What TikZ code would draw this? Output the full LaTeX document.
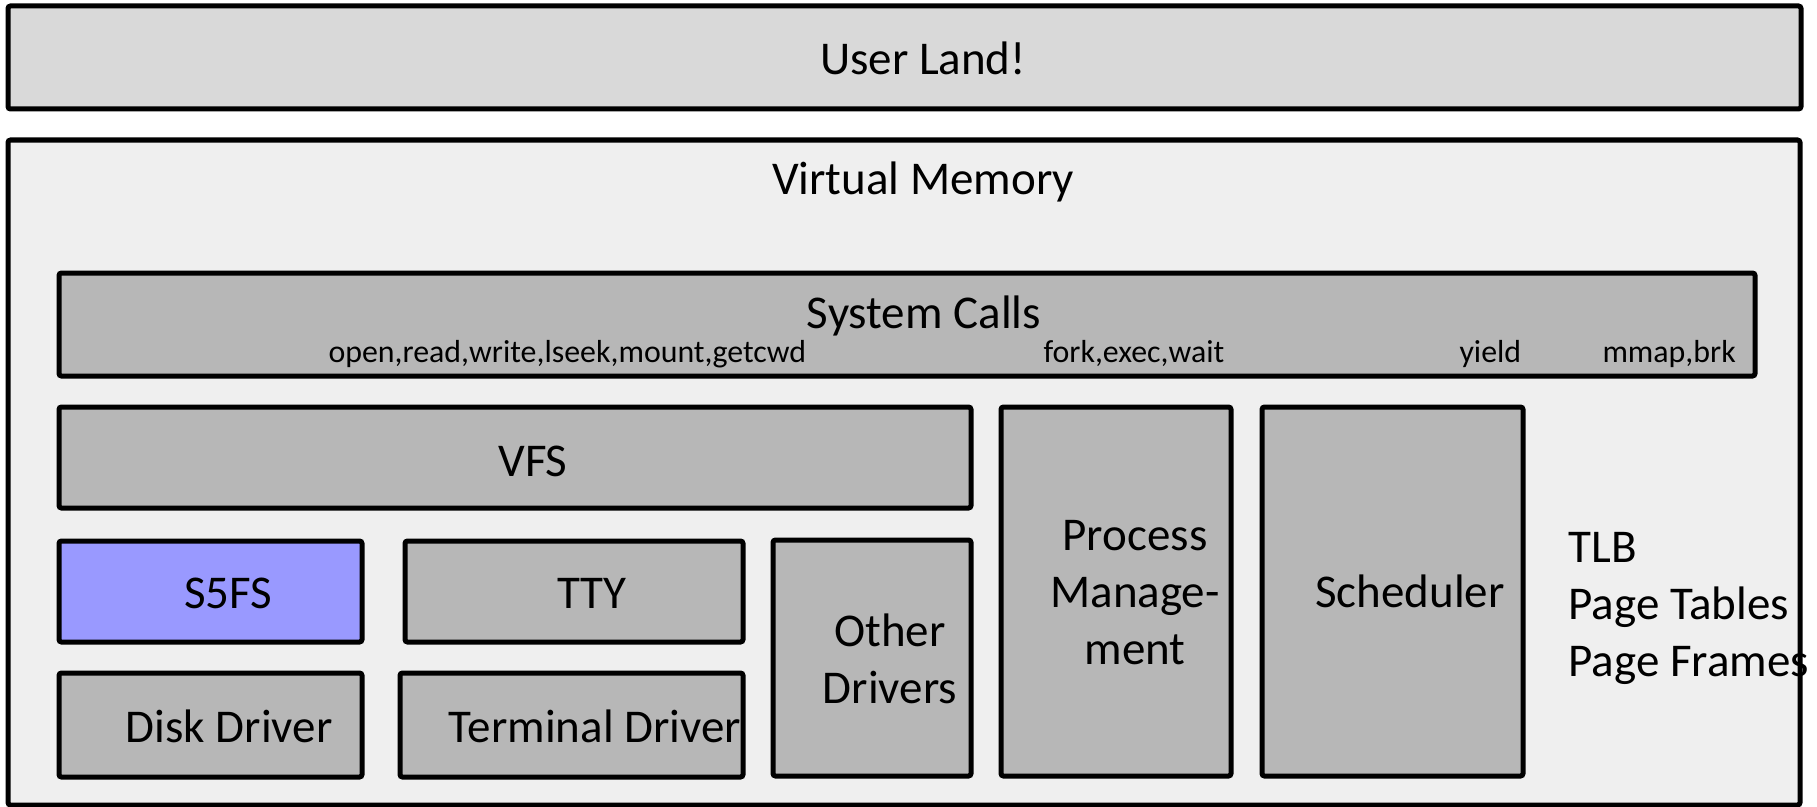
\documentclass[tikz,border=0pt]{standalone}
\usepackage{fontspec}
\setmainfont{Carlito}
\usetikzlibrary{fit}
\definecolor{userfill}{HTML}{D9D9D9}
\definecolor{vmfill}{HTML}{EFEFEF}
\definecolor{blockfill}{HTML}{B7B7B7}
\definecolor{fsfill}{HTML}{9999FF}
\begin{document}
\begin{tikzpicture}[x=0.4pt, y=-0.4pt,
  layer/.style={draw=black, line width=2pt, rounded corners=1pt, inner sep=0pt, fill=blockfill},
  big/.style={inner sep=0pt, font=\fontsize{18.8}{22.8}\selectfont},
  small/.style={inner sep=0pt, font=\fontsize{12.75}{15}\selectfont, anchor=base west}]
\useasboundingbox (0,0) rectangle (1817,806);

% outer layers
\node[layer, fill=userfill, fit={(8,6) (1801,109)}] (user) {};
\node[layer, fill=vmfill, fit={(8,140) (1800,805)}] (vm) {};

% kernel subsystems
\node[layer, fit={(59,273) (1755,376)}] (syscalls) {};
\node[layer, fit={(59,407) (971,508)}] (vfs) {};
\node[layer, fill=fsfill, fit={(59,541) (362,642)}] (s5fs) {};
\node[layer, fit={(405,541) (743,642)}] (tty) {};
\node[layer, fit={(59,673) (362,777)}] (disk) {};
\node[layer, fit={(400,673) (743,777)}] (term) {};
\node[layer, fit={(773,540) (971,776)}] (other) {};
\node[layer, fit={(1001,407) (1231,776)}] (proc) {};
\node[layer, fit={(1262,407) (1523,776)}] (sched) {};

% labels
\node[big, anchor=base] (userlbl) at (923,75) {User Land!};
\node[big, anchor=base] (vmlbl) at (923,195) {Virtual Memory};
\node[big, anchor=base] (syslbl) at (924,328) {System Calls};
\node[small] (fslist) at (328,362) {open,read,write,lseek,mount,getcwd};
\node[small] (proclist) at (1043,362) {fork,exec,wait};
\node[small] (yieldlbl) at (1459,362) {yield};
\node[small] (mmlist) at (1602,362) {mmap,brk};
\node[big, anchor=base] (vfslbl) at (533,476) {VFS};
\node[big, anchor=base] (s5fslbl) at (228,608) {S5FS};
\node[big, anchor=base] (ttylbl) at (592,608) {TTY};
\node[big, anchor=base] (disklbl) at (229,742) {Disk Driver};
\node[big, anchor=base] (termlbl) at (595,742) {Terminal Driver};
\node[big, anchor=base] (otherlbl) at (890,646)
  {\begin{tabular}[t]{@{}c@{}}Other\\Drivers\end{tabular}};
\node[big, anchor=base] (proclbl) at (1135,550)
  {\begin{tabular}[t]{@{}c@{}}Process\\Manage-\\ment\end{tabular}};
\node[big, anchor=base] (schedlbl) at (1410,607) {Scheduler};
\node[big, anchor=base west] (vmparts) at (1568,562)
  {\begin{tabular}[t]{@{}l@{}}TLB\\Page Tables\\Page Frames\end{tabular}};
\end{tikzpicture}
\end{document}
